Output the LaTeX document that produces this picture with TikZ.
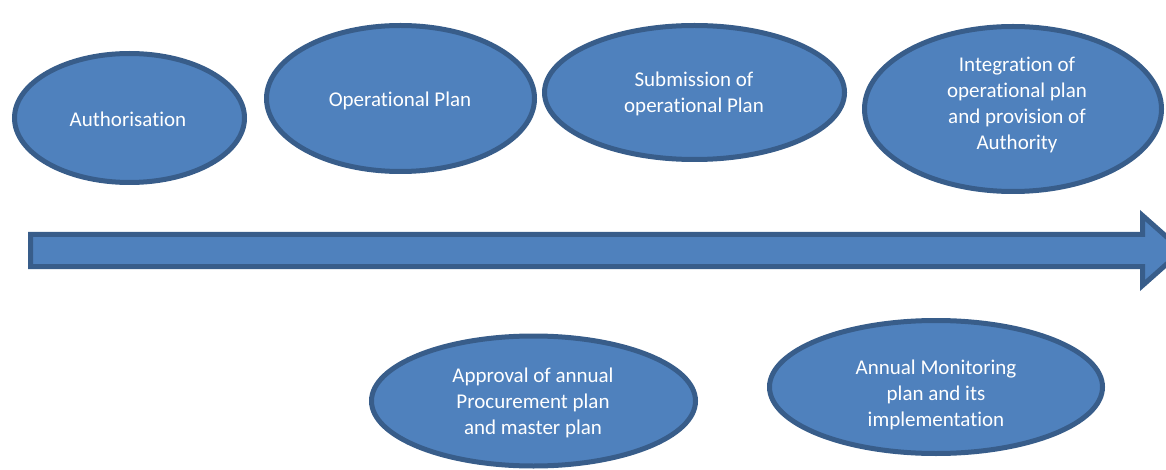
\documentclass[tikz,border=0pt]{standalone}
\usepackage{fontspec}
\setmainfont{Carlito}[Ligatures=NoCommon]
\usetikzlibrary{shapes.geometric}
\definecolor{fillblue}{HTML}{4F81BD}
\definecolor{edgeblue}{HTML}{385D8A}
\tikzset{
  ell/.style={ellipse, draw=edgeblue, fill=fillblue, line width=5pt, inner sep=0pt},
  lbl/.style={text=white, align=center, font=\fontsize{21}{26}\selectfont, inner sep=0pt},
  bigarrow/.style={draw=edgeblue, fill=fillblue, line width=5pt, line join=miter}
}
\begin{document}
\begin{tikzpicture}[x=1pt,y=-1pt]
\useasboundingbox (0,0) rectangle (1166,470);
\clip (0,0) rectangle (1166,470);
% timeline arrow
\coordinate (a1) at (30.5,234.5);
\coordinate (a2) at (1142.5,234.5);
\coordinate (a3) at (1142.5,215.5);
\coordinate (tip) at (1182,250.5);
\coordinate (a5) at (1142.5,285.5);
\coordinate (a6) at (1142.5,266.5);
\coordinate (a7) at (30.5,266.5);
\draw[bigarrow] (a1) -- (a2) -- (a3) -- (tip) -- (a5) -- (a6) -- (a7) -- cycle;
% ellipses
\node[ell, minimum width=230pt, minimum height=129pt] (e1) at (129.5,118) {};
\node[ell, minimum width=268pt, minimum height=146pt] (e2) at (400.5,98.5) {};
\node[ell, minimum width=300pt, minimum height=134pt] (e3) at (694.5,92.5) {};
\node[ell, minimum width=297pt, minimum height=165pt] (e4) at (1013,109) {};
\node[ell, minimum width=324pt, minimum height=130pt] (e5) at (533.5,401) {};
\node[ell, minimum width=333pt, minimum height=133pt] (e6) at (936,387) {};
% labels
\node[lbl] (t1) at (128,119) {Authorisation};
\node[lbl] (t2) at (400,101) {Operational Plan};
\node[lbl] (t3) at (694,94) {Submission of\\operational Plan};
\node[lbl] (t4) at (1017,104.5) {Integration of\\operational plan\\and provision of\\Authority};
\node[lbl] (t5) at (533,403) {Approval of annual\\Procurement plan\\and master plan};
\node[lbl] (t6) at (936,395) {Annual Monitoring\\plan and its\\implementation};
\end{tikzpicture}
\end{document}
